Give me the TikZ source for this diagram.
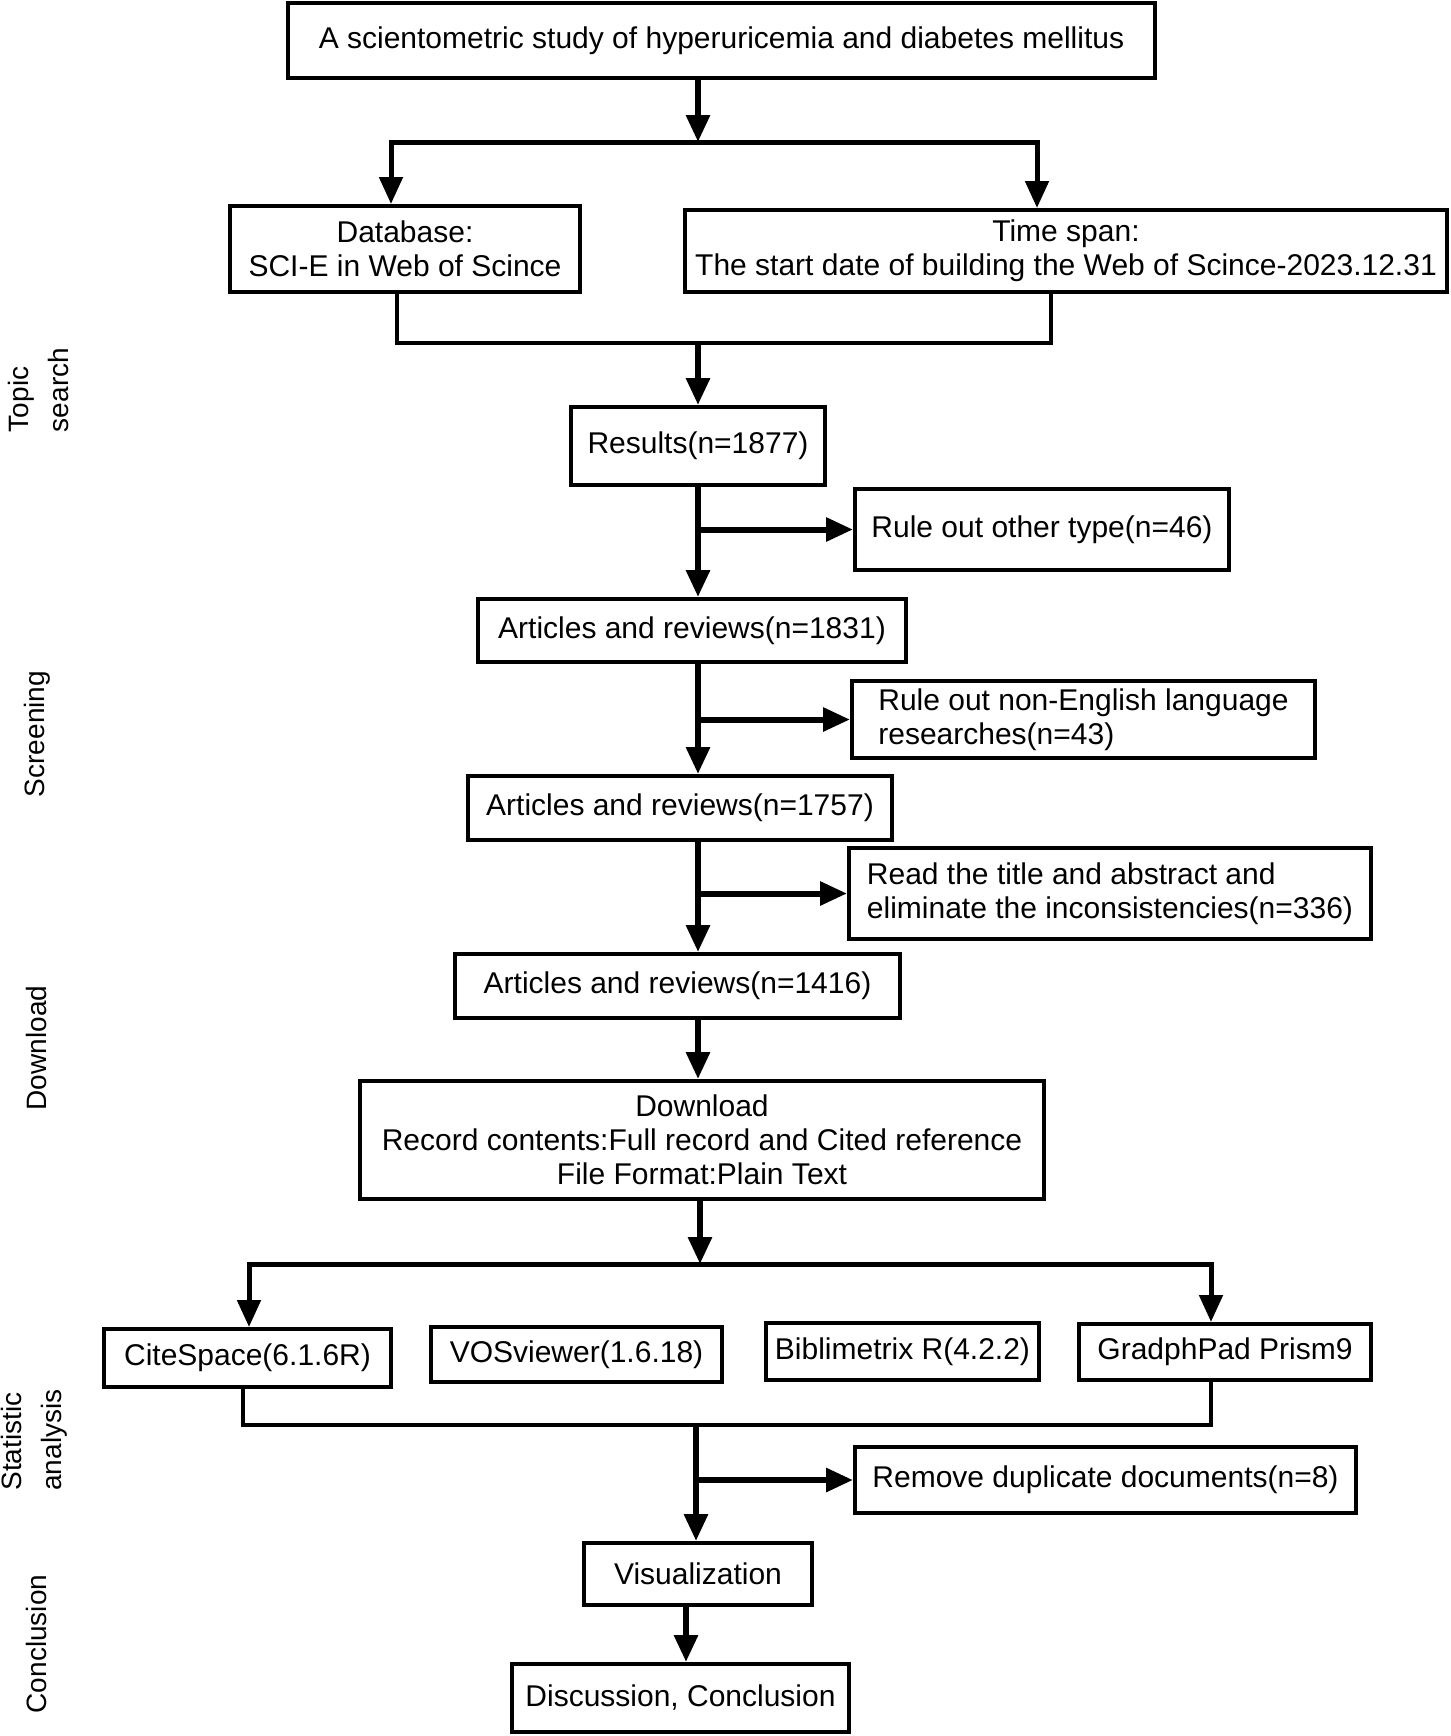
\documentclass[tikz,border=0pt]{standalone}
\usepackage{fontspec}
\setmainfont{Liberation Sans}
\usetikzlibrary{arrows.meta}

\begin{document}
\begin{tikzpicture}[x=0.5pt,y=-0.5pt,
	box/.style={draw, line width=2pt, inner sep=0pt, align=center, font=\fontsize{15}{17}\selectfont},
	sidebox/.style={box, align=left},
	stage/.style={rotate=90, align=left, font=\fontsize{14}{20}\selectfont},
	flow/.style={line width=3pt, -{Triangle[length=13.5pt,width=11.5pt]}},
	splitline/.style={flow, line width=2.5pt},
	mergeline/.style={line width=1.75pt}]
	\useasboundingbox (0,0) rectangle (1451,1736);
	% stages on the left
	\node[stage] (topic) at (38,390) {Topic\\search};
	\node[stage] (screen) at (37,734) {Screening};
	\node[stage] (down) at (36,1048) {Download};
	\node[stage] (stat) at (34,1440) {Statistic\\analysis};
	\node[stage] (concl) at (36,1644) {Conclusion};
	% boxes
	\node[box, minimum width=433.5pt, minimum height=37.5pt] (title) at (721.5,40.5) {A scientometric study of hyperuricemia and diabetes mellitus};
	\node[box, minimum width=175pt, minimum height=43pt] (db) at (405,249) {Database:\\ SCI-E in Web of Scince};
	\node[box, minimum width=381pt, minimum height=41pt] (span) at (1066,251) {Time span:\\The start date of building the Web of Scince-2023.12.31};
	\node[box, minimum width=127pt, minimum height=39pt] (res) at (698,446) {Results(n=1877)};
	\node[sidebox, minimum width=187pt, minimum height=40.5pt] (ex1) at (1042,529.5) {Rule out other type(n=46)};
	\node[box, minimum width=214pt, minimum height=31.5pt] (art1) at (692,630.5) {Articles and reviews(n=1831)};
	\node[sidebox, minimum width=231.5pt, minimum height=38.5pt] (ex2) at (1083.5,719.5) {Rule out non-English language\\researches(n=43)};
	\node[box, minimum width=212pt, minimum height=32pt] (art2) at (680,808) {Articles and reviews(n=1757)};
	\node[sidebox, minimum width=261pt, minimum height=45.5pt] (ex3) at (1110,893.5) {Read the title and abstract and\\eliminate the inconsistencies(n=336)};
	\node[box, minimum width=222.5pt, minimum height=32pt] (art3) at (677.5,986) {Articles and reviews(n=1416)};
	\node[box, minimum width=342pt, minimum height=59pt] (dl) at (702,1140) {Download\\Record contents:Full record and Cited reference\\File Format:Plain Text};
	\node[box, minimum width=143.5pt, minimum height=29pt] (cite) at (247.5,1358) {CiteSpace(6.1.6R)};
	\node[box, minimum width=145.5pt, minimum height=27.5pt] (vos) at (576.5,1354.5) {VOSviewer(1.6.18)};
	\node[box, minimum width=136.5pt, minimum height=28.5pt] (bib) at (902.5,1351.5) {Biblimetrix R(4.2.2)};
	\node[box, minimum width=146pt, minimum height=28pt] (prism) at (1225,1352) {GradphPad Prism9};
	\node[sidebox, minimum width=250.5pt, minimum height=33pt] (ex4) at (1105.5,1480) {Remove duplicate documents(n=8)};
	\node[box, minimum width=114pt, minimum height=31pt] (vis) at (698,1574) {Visualization};
	\node[box, minimum width=168.5pt, minimum height=34pt] (disc) at (680.5,1698) {Discussion, Conclusion};
	% junctions
	\coordinate (j1) at (698,142);
	\coordinate (j1l) at (391,142);
	\coordinate (j1r) at (1037,142);
	\coordinate (m1) at (698,343);
	\coordinate (m1l) at (397,343);
	\coordinate (m1r) at (1051,343);
	\coordinate (sp) at (698,0);
	\coordinate (j2) at (700,1264);
	\coordinate (j2l) at (249,1264);
	\coordinate (j2r) at (1211,1264);
	\coordinate (m2) at (696,1425);
	\coordinate (m2l) at (243,1425);
	\coordinate (m2r) at (1211,1425);
	\coordinate (sp2) at (686,0);
	% connectors
	\draw[flow] (title.south -| j1) -- (j1);
	\draw[splitline] (j1) -| (j1l |- db.north);
	\draw[splitline] (j1) -| (j1r |- span.north);
	\draw[mergeline] (m1l |- db.south) -- (m1l) -- (m1r) -- (m1r |- span.south);
	\draw[flow] (m1) -- (res.north -| m1);
	\draw[flow] (res.south -| sp) -- (art1.north -| sp);
	\draw[flow] (ex1.west -| sp) -- (ex1.west);
	\draw[flow] (art1.south -| sp) -- (art2.north -| sp);
	\draw[flow] (ex2.west -| sp) -- (ex2.west);
	\draw[flow] (art2.south -| sp) -- (art3.north -| sp);
	\draw[flow] (ex3.west -| sp) -- (ex3.west);
	\draw[flow] (art3.south -| sp) -- (dl.north -| sp);
	\draw[flow] (dl.south -| j2) -- (j2);
	\draw[splitline] (j2) -| (j2l |- cite.north);
	\draw[splitline] (j2) -| (j2r |- prism.north);
	\draw[mergeline] (m2l |- cite.south) -- (m2l) -- (m2r) -- (m2r |- prism.south);
	\draw[flow] (m2) -- (vis.north -| m2);
	\draw[flow] (ex4.west -| m2) -- (ex4.west);
	\draw[flow] (vis.south -| sp2) -- (disc.north -| sp2);
\end{tikzpicture}
\end{document}
